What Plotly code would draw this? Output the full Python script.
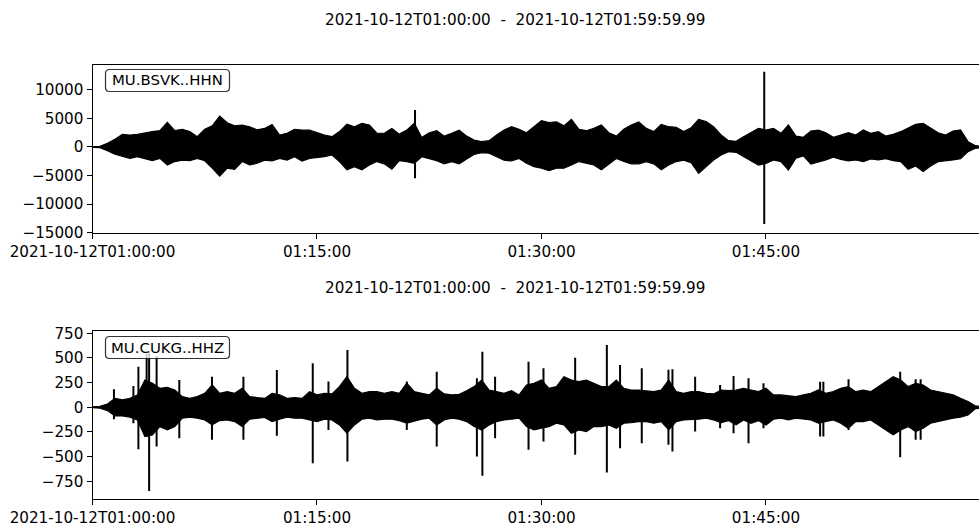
import plotly.graph_objects as go

# ---------------- data ----------------
title_text = "2021-10-12T01:00:00  -  2021-10-12T01:59:59.99"
station_labels = ["MU.BSVK..HHN", "MU.CUKG..HHZ"]

# envelope sample times (seconds after 2021-10-12T01:00:00)
times = list(range(0, 3601, 30))

bsvk_upper = [60, 120, 640, 1340, 2200, 2100, 2200, 2500, 2700, 2850,
              4300, 2850, 3100, 2700, 1800, 3100, 3700, 5400, 4250, 3700,
              3850, 3550, 3000, 3250, 3950, 2100, 2400, 3100, 2950, 2950,
              2500, 2100, 1800, 2700, 4000, 3550, 4150, 3850, 2400, 2400,
              3250, 2250, 2950, 4150, 1650, 2500, 2850, 1900, 2400, 2950,
              1900, 1200, 930, 1100, 2100, 2950, 3550, 3100, 2500, 3550,
              4600, 4250, 4400, 3700, 4850, 3100, 2850, 3250, 3850, 2500,
              1900, 3100, 3850, 4400, 3250, 2700, 3950, 3550, 3450, 2700,
              3380, 4840, 4430, 3550, 2100, 1100, 1000, 1800, 2500, 3260,
              2970, 3260, 2390, 3850, 1920, 1690, 2800, 2970, 2500, 1690,
              2100, 2500, 2100, 2970, 2390, 2680, 1920, 2210, 2680, 3260,
              3960, 4140, 3380, 2500, 2100, 2800, 2970, 930, 230, 60, 30]
bsvk_lower = [-60, -120, -640, -1280, -1700, -2000, -1700, -2000, -2400, -2000,
              -3150, -2550, -2300, -2400, -2000, -2400, -3700, -5100, -3700, -3900,
              -2550, -3150, -2850, -2300, -2450, -2000, -2300, -1700, -2450, -2000,
              -1850, -1700, -1400, -2550, -4000, -3450, -4000, -3150, -2550, -2950,
              -3900, -2400, -2550, -2850, -1700, -2000, -2400, -2950, -2550, -2950,
              -2100, -1300, -1000, -1100, -1700, -2300, -2450, -2000, -2850, -3450,
              -3700, -4150, -3700, -3700, -3150, -2550, -2850, -3150, -4000, -2950,
              -2000, -2550, -2950, -2950, -2550, -2950, -4000, -3150, -2550, -2300,
              -2740, -4600, -3440, -2270, -1400, -820, -930, -1690, -2450, -3150,
              -2860, -2270, -2560, -4020, -1980, -1570, -2970, -2560, -2270, -1800,
              -2160, -2450, -2270, -2560, -2100, -2270, -2040, -2390, -2560, -3900,
              -3320, -4310, -3320, -2560, -2390, -2270, -2040, -820, -230, -60, -30]
bsvk_spike_t = [1293, 2693]
bsvk_spike_hi = [6470, 13170]
bsvk_spike_lo = [-5480, -13460]

cukg_upper = [3, 10, 33, 90, 74, 90, 125, 276, 243, 192,
              202, 175, 108, 90, 108, 141, 226, 141, 158, 141,
              192, 108, 98, 90, 141, 125, 90, 98, 90, 158,
              125, 141, 135, 209, 310, 192, 141, 158, 158, 141,
              158, 141, 243, 158, 141, 125, 192, 135, 125, 131,
              168, 209, 276, 175, 158, 141, 168, 125, 226, 243,
              276, 192, 209, 310, 276, 259, 276, 243, 209, 209,
              276, 192, 175, 175, 168, 158, 175, 276, 158, 141,
              158, 158, 141, 135, 175, 168, 175, 192, 175, 158,
              192, 125, 125, 114, 108, 125, 141, 175, 141, 158,
              192, 209, 158, 175, 158, 209, 259, 310, 276, 209,
              243, 226, 175, 158, 141, 125, 90, 57, 13, 6, 3]
cukg_lower = [-3, -10, -34, -88, -88, -100, -128, -297, -280, -196,
              -230, -196, -111, -101, -111, -128, -179, -135, -128, -145,
              -196, -121, -111, -104, -145, -121, -101, -111, -111, -128,
              -145, -121, -128, -179, -263, -179, -121, -111, -128, -121,
              -121, -135, -162, -145, -121, -111, -179, -128, -111, -121,
              -145, -196, -230, -179, -145, -128, -121, -111, -196, -230,
              -213, -196, -162, -179, -263, -230, -246, -196, -196, -179,
              -213, -162, -155, -145, -145, -162, -145, -230, -145, -128,
              -128, -121, -111, -128, -155, -135, -179, -128, -162, -135,
              -179, -121, -111, -128, -111, -121, -128, -162, -145, -128,
              -162, -213, -145, -145, -128, -179, -230, -280, -230, -196,
              -246, -213, -162, -145, -128, -111, -101, -78, -14, -7, -3]
cukg_spike_t = [86, 164, 184, 217, 227, 257, 348, 479, 605, 739, 883, 946, 1022,
                1260, 1380, 1541, 1563, 1614, 1748, 1808, 1935, 2062, 2115, 2202,
                2309, 2325, 2416, 2516, 2570, 2630, 2690, 2917, 2930, 3031, 3238,
                3300, 3320]
cukg_spike_hi = [182, 215, 411, 540, 560, 520, 276, 310, 310, 377, 445, 260, 580,
                 260, 361, 293, 563, 310, 462, 395, 502, 631, 428, 395,
                 380, 384, 310, 226, 317, 293, 243, 259, 259, 283, 361,
                 283, 283]
cukg_spike_lo = [-122, -162, -425, -300, -850, -398, -313, -330, -330, -290, -567, -230, -550,
                 -230, -398, -500, -695, -313, -432, -347, -482, -661, -415, -364,
                 -380, -449, -246, -213, -263, -364, -213, -297, -297, -230, -506,
                 -330, -330]

x_tick_vals = [0, 900, 1800, 2700]
x_tick_text = ["2021-10-12T01:00:00", "01:15:00", "01:30:00", "01:45:00"]
y1_tick_vals = [10000, 5000, 0, -5000, -10000, -15000]
y1_tick_text = ["10000", "5000", "0", "\u22125000", "\u221210000", "\u221215000"]
y2_tick_vals = [750, 500, 250, 0, -250, -500, -750]
y2_tick_text = ["750", "500", "250", "0", "\u2212250", "\u2212500", "\u2212750"]

# ---------------- layout geometry ----------------
W, H = 979, 524
FONT = "DejaVu Sans"
FS = 15.2


def px_x(p):
    return p / W


def px_y(p):
    return 1 - p / H


def rounded_box(x0, y0, x1, y1, r):
    X0, X1 = px_x(x0), px_x(x1)
    Y0, Y1 = px_y(y0), px_y(y1)
    rx, ry = r / W, r / H
    return (f"M {X0 + rx},{Y0} L {X1 - rx},{Y0} Q {X1},{Y0} {X1},{Y0 - ry} "
            f"L {X1},{Y1 + ry} Q {X1},{Y1} {X1 - rx},{Y1} "
            f"L {X0 + rx},{Y1} Q {X0},{Y1} {X0},{Y1 + ry} "
            f"L {X0},{Y0 - ry} Q {X0},{Y0} {X0 + rx},{Y0} Z")


fig = go.Figure()


def add_wave(t, up, lo, st, sh, sl, xa, ya):
    fig.add_trace(go.Scatter(
        x=t + t[::-1], y=up + lo[::-1], fill="toself", fillcolor="black",
        mode="lines", line=dict(color="black", width=1.2),
        xaxis=xa, yaxis=ya, hoverinfo="skip", showlegend=False))
    sx, sy = [], []
    for a, b, c in zip(st, sh, sl):
        sx += [a, a, None]
        sy += [c, b, None]
    fig.add_trace(go.Scatter(
        x=sx, y=sy, mode="lines", line=dict(color="black", width=2),
        xaxis=xa, yaxis=ya, hoverinfo="skip", showlegend=False))


add_wave(times, bsvk_upper, bsvk_lower, bsvk_spike_t, bsvk_spike_hi, bsvk_spike_lo, "x", "y")
add_wave(times, cukg_upper, cukg_lower, cukg_spike_t, cukg_spike_hi, cukg_spike_lo, "x2", "y2")

x_right = (W - 92.5) * 4.009

common_x = dict(range=[0, x_right], tickvals=x_tick_vals, ticktext=x_tick_text,
                showline=True, linecolor="black", linewidth=1, mirror=True,
                ticks="outside", ticklen=5, tickcolor="black", tickwidth=1,
                showgrid=False, zeroline=False, domain=[92.5 / W, 1], automargin=False,
                tickfont=dict(family=FONT, size=FS, color="black"))
common_y = dict(showline=True, linecolor="black", linewidth=1, mirror=False,
                ticks="outside", ticklen=5, tickcolor="black", tickwidth=1,
                showgrid=False, zeroline=False, automargin=False,
                tickfont=dict(family=FONT, size=FS, color="black"))

fig.update_layout(
    width=W, height=H, margin=dict(l=0, r=0, t=0, b=0, autoexpand=False),
    paper_bgcolor="white", plot_bgcolor="white",
    xaxis=dict(anchor="y", **common_x),
    xaxis2=dict(anchor="y2", **common_x),
    yaxis=dict(anchor="x", domain=[px_y(232.7), px_y(64.7)], range=[-15000, 14400],
               tickvals=y1_tick_vals, ticktext=y1_tick_text, **common_y),
    yaxis2=dict(anchor="x2", domain=[px_y(499), px_y(331)], range=[-930, 773],
                tickvals=y2_tick_vals, ticktext=y2_tick_text, **common_y),
)

annotations = []
for yc in (20, 288):
    annotations.append(dict(text=title_text, x=px_x(515), y=px_y(yc), xref="paper", yref="paper",
                            showarrow=False, xanchor="center", yanchor="middle",
                            font=dict(family=FONT, size=FS, color="black")))
shapes = []
for lab, (y0, y1) in zip(station_labels, [(69.5, 91.5), (336.5, 358.5)]):
    shapes.append(dict(type="path", path=rounded_box(105.5, y0, 229.5, y1, 4),
                       xref="paper", yref="paper", fillcolor="rgba(255,255,255,0.8)",
                       line=dict(color="rgba(0,0,0,0.8)", width=1.2), layer="above"))
    annotations.append(dict(text=lab, x=px_x(167.5), y=px_y((y0 + y1) / 2), xref="paper", yref="paper",
                            showarrow=False, xanchor="center", yanchor="middle",
                            font=dict(family=FONT, size=14.9, color="black")))
fig.update_layout(annotations=annotations, shapes=shapes)

fig.write_html("out.html", config={"displayModeBar": False},
               post_script="document.body.style.margin='0';document.body.style.overflow='hidden';")
